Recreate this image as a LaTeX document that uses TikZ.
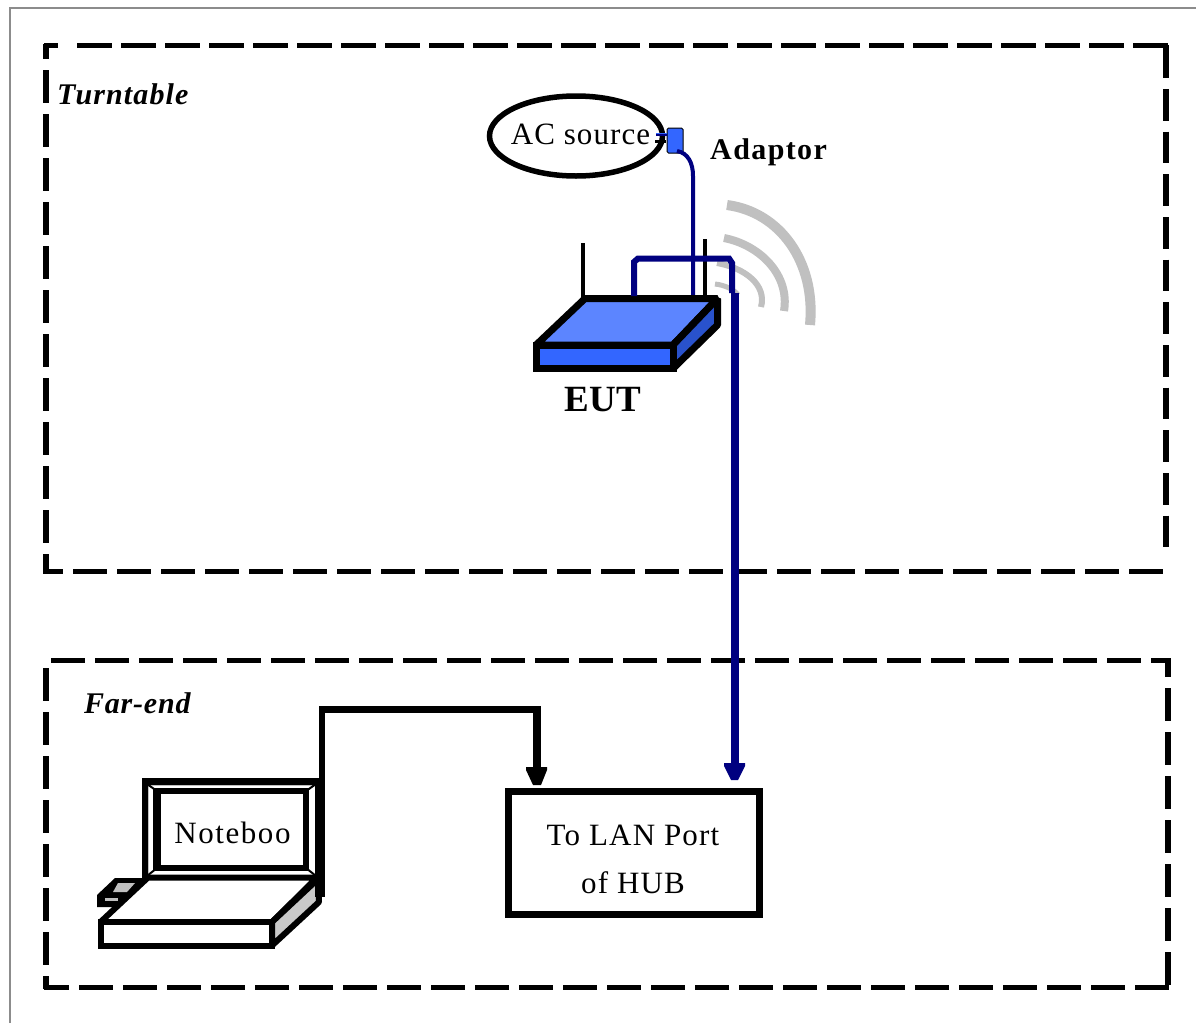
\documentclass[tikz,border=0pt]{standalone}
\usepackage{fontspec}
\setmainfont{Liberation Serif}
\usetikzlibrary{shapes.geometric}
\definecolor{navyc}{RGB}{0,0,128}
\definecolor{topblue}{RGB}{92,133,255}
\definecolor{frontblue}{RGB}{51,102,255}
\definecolor{sideblue}{RGB}{41,82,204}
\definecolor{wavegray}{RGB}{192,192,192}
\definecolor{framegray}{RGB}{140,140,140}
\newcommand{\spaced}[1]{\addfontfeature{LetterSpace=#1}}
\tikzset{
  zonev/.style={draw=black,line width=6pt,dash pattern=on 33pt off 11pt},
  zoneh/.style={draw=black,line width=5pt,dash pattern=on 34pt off 10pt},
  boldit/.style={font=\fontsize{30}{30}\selectfont\bfseries\itshape\spaced{3.8},inner sep=0pt,anchor=west},
  plain/.style={font=\fontsize{31}{48}\selectfont\spaced{3.8},inner sep=0pt,align=center},
  routerline/.style={draw=black,line width=7pt},
  nbline/.style={draw=black,line width=6pt},
}
\begin{document}
\begin{tikzpicture}[x=1pt,y=-1pt]
\useasboundingbox (0,0) rectangle (1196,1023);
\fill[white] (0,0) rectangle (1196,1023);
\draw[framegray,line width=2pt] (9.5,1023) -- (9.5,7.5) -- (1196,7.5);
% upper zone
\draw[zoneh] (44,45) -- (58,45);
\draw[zoneh,dash pattern=on 35pt off 9pt] (77,45) -- (1168,45);
\draw[zonev,dash phase=18pt] (46,44) -- (46,574);
\draw[zoneh,dash phase=15pt] (44,571) -- (1163,571);
\draw[zonev,dash pattern=on 33pt off 11pt] (1166,45) -- (1166,78);
\draw[zonev,dash pattern=on 31.5pt off 11.17pt] (1166,89) -- (1166,547);
% lower zone
\draw[zoneh] (51,660) -- (1171,660);
\draw[zonev] (46,668) -- (46,989);
\draw[zoneh,dash phase=9pt] (44,987) -- (1169,987);
\draw[zonev,dash phase=14pt] (1168,658) -- (1168,989);
\node[boldit] (turntable) at (57,94) {Turntable};
\node[boldit,font=\fontsize{30}{30}\selectfont\bfseries\itshape\spaced{2.6}] (farend) at (84,703) {Far-end};
% waves
\draw[wavegray,line width=10pt] (727,205) .. controls (780,212) and (816,262) .. (810,325);
\draw[wavegray,line width=8pt] (724,238) .. controls (760,245) and (790,275) .. (784,311);
\draw[wavegray,line width=6pt] (717,263) .. controls (745,268) and (767,285) .. (761,307);
\draw[wavegray,line width=5pt] (715,284) .. controls (725,285) and (735,290) .. (738,295);
% AC source
\node[draw=black,line width=5.5pt,ellipse,minimum width=173pt,minimum height=80pt,inner sep=0pt] (acnode) at (576,136) {};
\node[plain,font=\fontsize{31}{36}\selectfont\spaced{3.5}] (ac) at (580.5,134) {AC source};
% adaptor
\node[draw=black,fill=frontblue,line width=1pt,rounded corners=1.5pt,minimum width=16pt,minimum height=25pt,inner sep=0pt] (adaptor) at (675,140.5) {};
\draw[navyc,line width=3pt] (656,134) -- (667,134);
\draw[frontblue,line width=1.5pt] (656,133.5) -- (667,133.5);
\draw[black,line width=2.5pt] (655,141.5) -- (666,141.5);
\node[font=\fontsize{30}{30}\selectfont\bfseries\spaced{4.7},inner sep=0pt,anchor=west] (adlabel) at (710,152) {Adaptor};
% cables
\draw[navyc,line width=4pt] (677,151) .. controls (688,153) and (693,163) .. (693,176) -- (693,298);
% antennas
\draw[line width=4pt] (583,243) -- (583,298);
\draw[line width=4pt] (705,239) -- (705,298);
% router
\coordinate (a) at (585,298.5);
\coordinate (b) at (717.5,298.5);
\coordinate (c) at (673,345);
\coordinate (d) at (536,345);
\coordinate (e) at (536,368.5);
\coordinate (f) at (673,368.5);
\coordinate (g) at (717.5,325);
\filldraw[routerline,fill=topblue,line join=bevel] (a) -- (b) -- (c) -- (d) -- cycle;
\filldraw[routerline,fill=sideblue,line join=bevel] (b) -- (g) -- (f) -- (c) -- cycle;
\filldraw[routerline,fill=frontblue] (d) -- (c) -- (f) -- (e) -- cycle;
\node[font=\fontsize{37}{37}\selectfont\bfseries,inner sep=0pt] (eut) at (603,400) {EUT};
% hub
\node[draw=black,line width=7pt,minimum width=251pt,minimum height=123pt,inner sep=0pt] (hub) at (634,853) {};
\node[plain] (hubtext) at (633,859) {To LAN Port\\of HUB};
% navy cable
\coordinate (n1) at (634,296);
\coordinate (n3) at (729,258.5);
\draw[navyc,line width=6pt] (n1) -- (634,262) -- (638,258.5) -- (n3) -- (732,263) -- (732,293);
\draw[navyc,line width=8pt] (734.5,293) -- (734.5,770);
\fill[navyc] (724,763) -- (745,763) -- (745,766) -- (738,780) -- (731,780) -- (724,766) -- cycle;
% notebook
\fill[white] (142,778) rectangle (318,880);
\draw[wavegray,line width=1pt] (148.5,785.5) rectangle (315,875);
\draw[line width=6.5pt,draw=black] (145,781.5) -- (319,781.5);
\draw[line width=6.5pt,draw=black] (145,778) -- (145,880);
\draw[line width=2pt] (147,784) -- (157,791) (316,784) -- (306,791) (147,876) -- (157,868) (316,876) -- (306,868);
\draw[nbline] (157,791) rectangle (306,867.5);
\draw[line width=8pt] (157,788) -- (157,871);
\node[plain,font=\fontsize{31}{36}\selectfont\spaced{5}] (nb) at (232.5,833) {Noteboo};
% card
\fill[black] (115,878) -- (145,878) -- (120,907) -- (97,907) -- (97,895) -- cycle;
\fill[wavegray] (118,883) -- (135,883) -- (127,892) -- (113,892) -- cycle;
\fill[wavegray] (105,898) rectangle (118,900.5);
% keyboard
\filldraw[nbline,fill=white,line join=bevel] (148,877.5) -- (317,877.5) -- (272,922) -- (100.5,922) -- cycle;
\filldraw[nbline,fill=wavegray!85,line join=bevel] (318,879) -- (319,902) -- (272,945.5) -- (272,922) -- cycle;
\filldraw[nbline,fill=white] (100.5,922) rectangle (272,945.5);
% black cable
\coordinate (k1) at (320,897);
\draw[line width=10pt] (k1) -- (320,782);
\draw[line width=6pt] (322,785) -- (322,706.5);
\draw[line width=7pt] (319,709.5) -- (537,709.5);
\draw[line width=7.5pt] (537,706) -- (537,772);
\fill[black] (526,767) -- (547,767) -- (547,770) -- (541,785) -- (533,785) -- (526,770) -- cycle;
\end{tikzpicture}
\end{document}
